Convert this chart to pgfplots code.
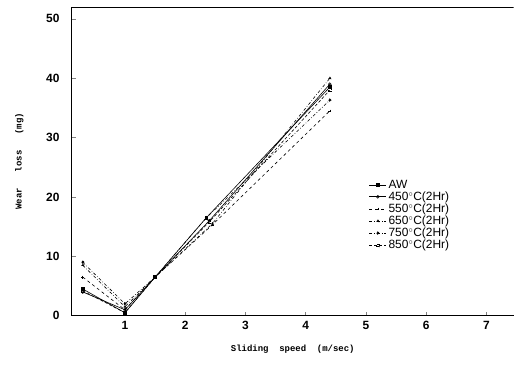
\documentclass[border=0pt]{standalone}
\usepackage{fontspec}
\setmainfont{Liberation Sans}
\setmonofont{Liberation Mono}
\usepackage{pgfplots}
\pgfplotsset{compat=1.18}
\begin{document}
\begin{tikzpicture}
\begin{axis}[
  scale only axis,
  width=442bp, height=309bp,
  xmin=0.12, xmax=7.45, ymin=0, ymax=52,
  axis x line*=bottom, axis y line*=left,
  axis line style={-, line width=0.9pt},
  xtick={1,2,3,4,5,6,7}, ytick={0,10,20,30,40,50},
  x tick style={line width=0.6pt}, y tick style={line width=0.6pt},
  tick align=inside,
  major tick length=4pt,
  /pgf/number format/assume math mode=true,
  tick label style={font=\large\bfseries},
  xticklabel style={yshift=-2pt},
  yticklabel style={xshift=-9pt},
  xlabel={\ttfamily\bfseries\small Sliding\ \ speed\ \ (m/sec)},
  ylabel={\ttfamily\bfseries\small Wear\ \ \ loss\ \ \ (mg)},
  xlabel style={yshift=-8pt},
  ylabel style={yshift=16pt},
  legend style={draw=none, fill=none, at={(0.67,0.45)}, anchor=north west,
    font=\large, row sep=-2pt, inner sep=1pt},
  legend cell align=left,
  every axis plot/.append style={black, line width=0.6pt, mark size=1.4pt},
]
\addplot[solid, mark=square*] coordinates {(0.3,4.5) (1,0.5) (1.5,6.5) (2.35,16.5) (4.4,38.5)};
\addlegendentry{AW}
\addplot[solid, mark=o] coordinates {(0.3,4.0) (1,1.0) (1.5,6.5) (2.4,16.0) (4.4,39.0)};
\addlegendentry{450$^\circ$C(2Hr)}
\addplot[dashed, mark=+] coordinates {(0.3,6.5) (1,1.0) (1.5,6.5) (2.45,15.3) (4.4,34.5)};
\addlegendentry{550$^\circ$C(2Hr)}
\addplot[dash dot, mark=triangle*] coordinates {(0.3,8.5) (1,1.5) (1.5,6.5) (2.45,15.5) (4.4,40.0)};
\addlegendentry{650$^\circ$C(2Hr)}
\addplot[dash dot, mark=*] coordinates {(0.3,9.0) (1,2.0) (1.5,6.5) (2.35,16.5) (4.4,36.3)};
\addlegendentry{750$^\circ$C(2Hr)}
\addplot[densely dashed, mark=square] coordinates {(0.3,4.2) (1,0.5) (1.5,6.5) (2.4,15.8) (4.4,38.0)};
\addlegendentry{850$^\circ$C(2Hr)}
\draw[line width=0.9pt] (rel axis cs:0,1) -- (rel axis cs:1,1);
\end{axis}
\path[use as bounding box] (-72bp,-53bp) rectangle (442bp,316bp);
\end{tikzpicture}
\end{document}
